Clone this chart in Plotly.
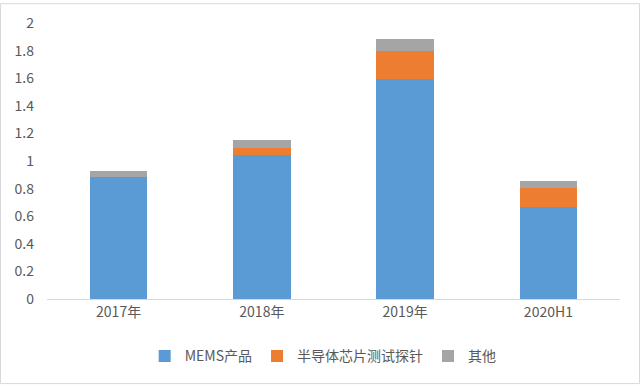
import plotly.graph_objects as go

categories = ["2017年", "2018年", "2019年", "2020H1"]
mems = [0.887, 1.044, 1.594, 0.667]
probe = [0.0, 0.053, 0.203, 0.138]
other = [0.038, 0.052, 0.090, 0.053]
series_names = ["MEMS产品", "半导体芯片测试探针", "其他"]
colors = ["#5B9BD5", "#ED7D31", "#A5A5A5"]

fig = go.Figure()
for name, vals, c in zip(series_names, [mems, probe, other], colors):
    fig.add_trace(go.Bar(x=categories, y=vals, name=name, marker=dict(color=c, line=dict(width=0))))

font_family = "Noto Sans CJK SC, Noto Sans, sans-serif"
fig.update_layout(
    barmode="stack",
    bargap=0.6,
    width=640, height=385,
    margin=dict(l=47, r=20, t=20, b=86),
    paper_bgcolor="white", plot_bgcolor="white",
    font=dict(family=font_family, size=13, color="#595959"),
    showlegend=True,
    legend=dict(orientation="h", x=0.482, xanchor="center", y=-0.15, yanchor="top",
                font=dict(size=14, color="#595959"), traceorder="normal", itemwidth=30),
    xaxis=dict(showline=True, linecolor="#D9D9D9", linewidth=1, ticks="", showgrid=False,
               tickfont=dict(size=14, color="#595959")),
    yaxis=dict(range=[0, 2], dtick=0.2, showgrid=False, zeroline=False, showline=False,
               tickfont=dict(size=14, color="#595959"), ticks="", ticklabelstandoff=12),
    shapes=[dict(type="rect", xref="paper", yref="paper", x0=-46.5/573, x1=1+19.5/573,
                 y0=-85.5/279, y1=1+19.5/279, line=dict(color="#D9D9D9", width=1))],
)
fig.write_html("out.html", config={"displayModeBar": False},
               post_script="document.body.style.margin='0';document.body.style.padding='0';")
